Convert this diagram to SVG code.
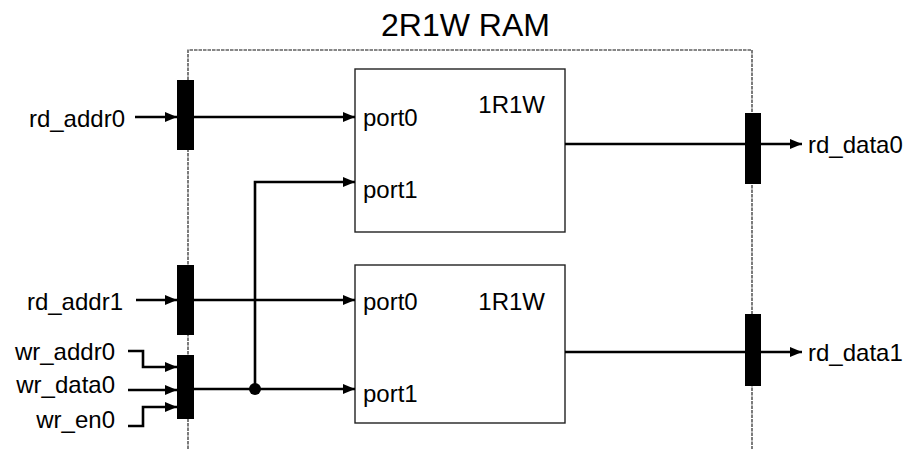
<svg xmlns="http://www.w3.org/2000/svg" width="910" height="449" viewBox="0 0 910 449">
<style>
text{font-family:"Liberation Sans",Arial,sans-serif;fill:#000}
.lbl{font-size:24px}
.title{font-size:32px}
.box{fill:#fff;stroke:#222;stroke-width:1.4}
.bar{fill:#000}
.wire{fill:none;stroke:#000;stroke-width:2.6}
.frame{fill:none;stroke:#111;stroke-width:1.1;stroke-dasharray:3.5 1}
</style>
<defs>
<marker id="ah" markerUnits="userSpaceOnUse" markerWidth="14" markerHeight="12" refX="12" refY="6" orient="auto">
<path d="M0,1 L12,6 L0,11 z" fill="#000"/>
</marker>
</defs>
<rect width="910" height="449" fill="#fff"/>
<g id="frame">
<path class="frame" d="M188,449 V50 H752 V449"/>
<text class="title" x="465.5" y="36" text-anchor="middle">2R1W RAM</text>
</g>
<g id="ram0">
<rect class="box" x="355" y="69" width="210" height="163"/>
<text class="lbl" x="545" y="113" text-anchor="end">1R1W</text>
<text class="lbl" x="363" y="126">port0</text>
<text class="lbl" x="363" y="198">port1</text>
</g>
<g id="ram1">
<rect class="box" x="355" y="265" width="210" height="158"/>
<text class="lbl" x="545" y="310" text-anchor="end">1R1W</text>
<text class="lbl" x="363" y="310">port0</text>
<text class="lbl" x="363" y="402">port1</text>
</g>
<g id="inputs">
<text class="lbl" x="125" y="127" text-anchor="end">rd_addr0</text>
<text class="lbl" x="123" y="310" text-anchor="end">rd_addr1</text>
<text class="lbl" x="115" y="360" text-anchor="end">wr_addr0</text>
<text class="lbl" x="115" y="393" text-anchor="end">wr_data0</text>
<text class="lbl" x="115" y="428" text-anchor="end">wr_en0</text>
</g>
<g id="outputs">
<text class="lbl" x="808" y="153">rd_data0</text>
<text class="lbl" x="808" y="361">rd_data1</text>
</g>
<g id="connectors">
<path class="wire" d="M135,117 H177" marker-end="url(#ah)"/>
<path class="wire" d="M194,117 H355" marker-end="url(#ah)"/>
<path class="wire" d="M136,300 H177" marker-end="url(#ah)"/>
<path class="wire" d="M194,300 H355" marker-end="url(#ah)"/>
<path class="wire" d="M128,351 H143 V367 H177" marker-end="url(#ah)"/>
<path class="wire" d="M128,390 H177" marker-end="url(#ah)"/>
<path class="wire" d="M128,426 H143 V407 H177" marker-end="url(#ah)"/>
<path class="wire" d="M194,389 H355" marker-end="url(#ah)"/>
<path class="wire" d="M255,389 V182 H355" marker-end="url(#ah)"/>
<circle cx="255" cy="389" r="6" fill="#000"/>
<path class="wire" d="M565,144 H802" marker-end="url(#ah)"/>
<path class="wire" d="M565,352 H802" marker-end="url(#ah)"/>
</g>
<g id="mux_rd0"><rect class="bar" x="177" y="80" width="17" height="70"/></g>
<g id="mux_rd1"><rect class="bar" x="177" y="265" width="17" height="70"/></g>
<g id="mux_wr"><rect class="bar" x="177" y="355" width="17" height="64"/></g>
<g id="mux_out0"><rect class="bar" x="745" y="113" width="16" height="71"/></g>
<g id="mux_out1"><rect class="bar" x="745" y="314" width="16" height="72"/></g>
</svg>
